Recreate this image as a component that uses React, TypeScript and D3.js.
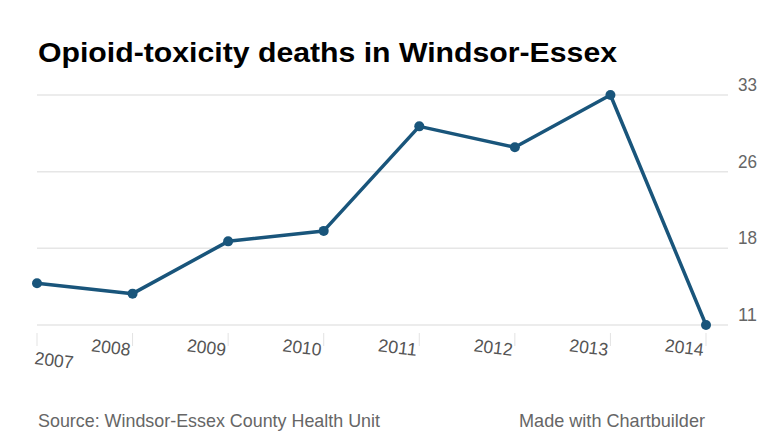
import React from "react";
import * as d3 from "d3";

const years = ["2007", "2008", "2009", "2010", "2011", "2012", "2013", "2014"];
const deaths = [15, 14, 19, 20, 30, 28, 33, 11];
const yTickLabels = ["11", "18", "26", "33"];
const title = "Opioid-toxicity deaths in Windsor-Essex";
const source = "Source: Windsor-Essex County Health Unit";
const credit = "Made with Chartbuilder";

const W = 780;
const H = 439;
const color = "#19557b";

export default function App() {
  const x = d3.scalePoint<string>().domain(years).range([37, 706]);
  const y = d3.scaleLinear().domain([11, 33]).range([325, 95]);
  // Chartbuilder spaces ticks evenly across the domain and rounds the labels
  const n = yTickLabels.length;
  const tickVals = d3.range(n).map((i) => 11 + (i * (33 - 11)) / (n - 1));
  const pts = years.map((yr, i) => [x(yr) as number, y(deaths[i])] as [number, number]);
  const line = d3.line()(pts) as string;
  return (
    <svg width={W} height={H} style={{ position: "absolute", left: 0, top: 0, background: "#fff" }}
      fontFamily="'Liberation Sans', Arial, sans-serif">
      <rect width={W} height={H} fill="#fff" />
      <text x={38} y={62} fontSize={28} fontWeight="bold" fill="#000" textLength={579} lengthAdjust="spacingAndGlyphs">{title}</text>
      {tickVals.map((t, i) => (
        <g key={i}>
          <line x1={37} x2={728} y1={y(t)} y2={y(t)} stroke="#e6e6e6" strokeWidth={1.5} />
          <text x={738} y={y(t) - 4} fontSize={19} fill="#666" textLength={19} lengthAdjust="spacingAndGlyphs">{yTickLabels[i]}</text>
        </g>
      ))}
      {years.map((yr, i) => {
        const xx = x(yr) as number;
        return (
          <g key={yr}>
            <line x1={xx} x2={xx} y1={333} y2={346} stroke="#e3e3e3" strokeWidth={1} />
            {i === 0 ? (
              <text transform={`translate(${xx - 3},${364}) rotate(7)`} fontSize={18} fill="#555" textAnchor="start" textLength={39} lengthAdjust="spacingAndGlyphs">{yr}</text>
            ) : (
              <text transform={`translate(${xx - 3},${356}) rotate(7)`} fontSize={18} fill="#555" textAnchor="end" textLength={39} lengthAdjust="spacingAndGlyphs">{yr}</text>
            )}
          </g>
        );
      })}
      <path d={line} fill="none" stroke={color} strokeWidth={3.5} strokeLinejoin="round" />
      {pts.map((p, i) => (
        <circle key={i} cx={p[0]} cy={p[1]} r={5} fill={color} />
      ))}
      <text x={38} y={427} fontSize={19} fill="#666" textLength={342} lengthAdjust="spacingAndGlyphs">{source}</text>
      <text x={519} y={427} fontSize={19} fill="#666" textLength={186} lengthAdjust="spacingAndGlyphs">{credit}</text>
    </svg>
  );
}
